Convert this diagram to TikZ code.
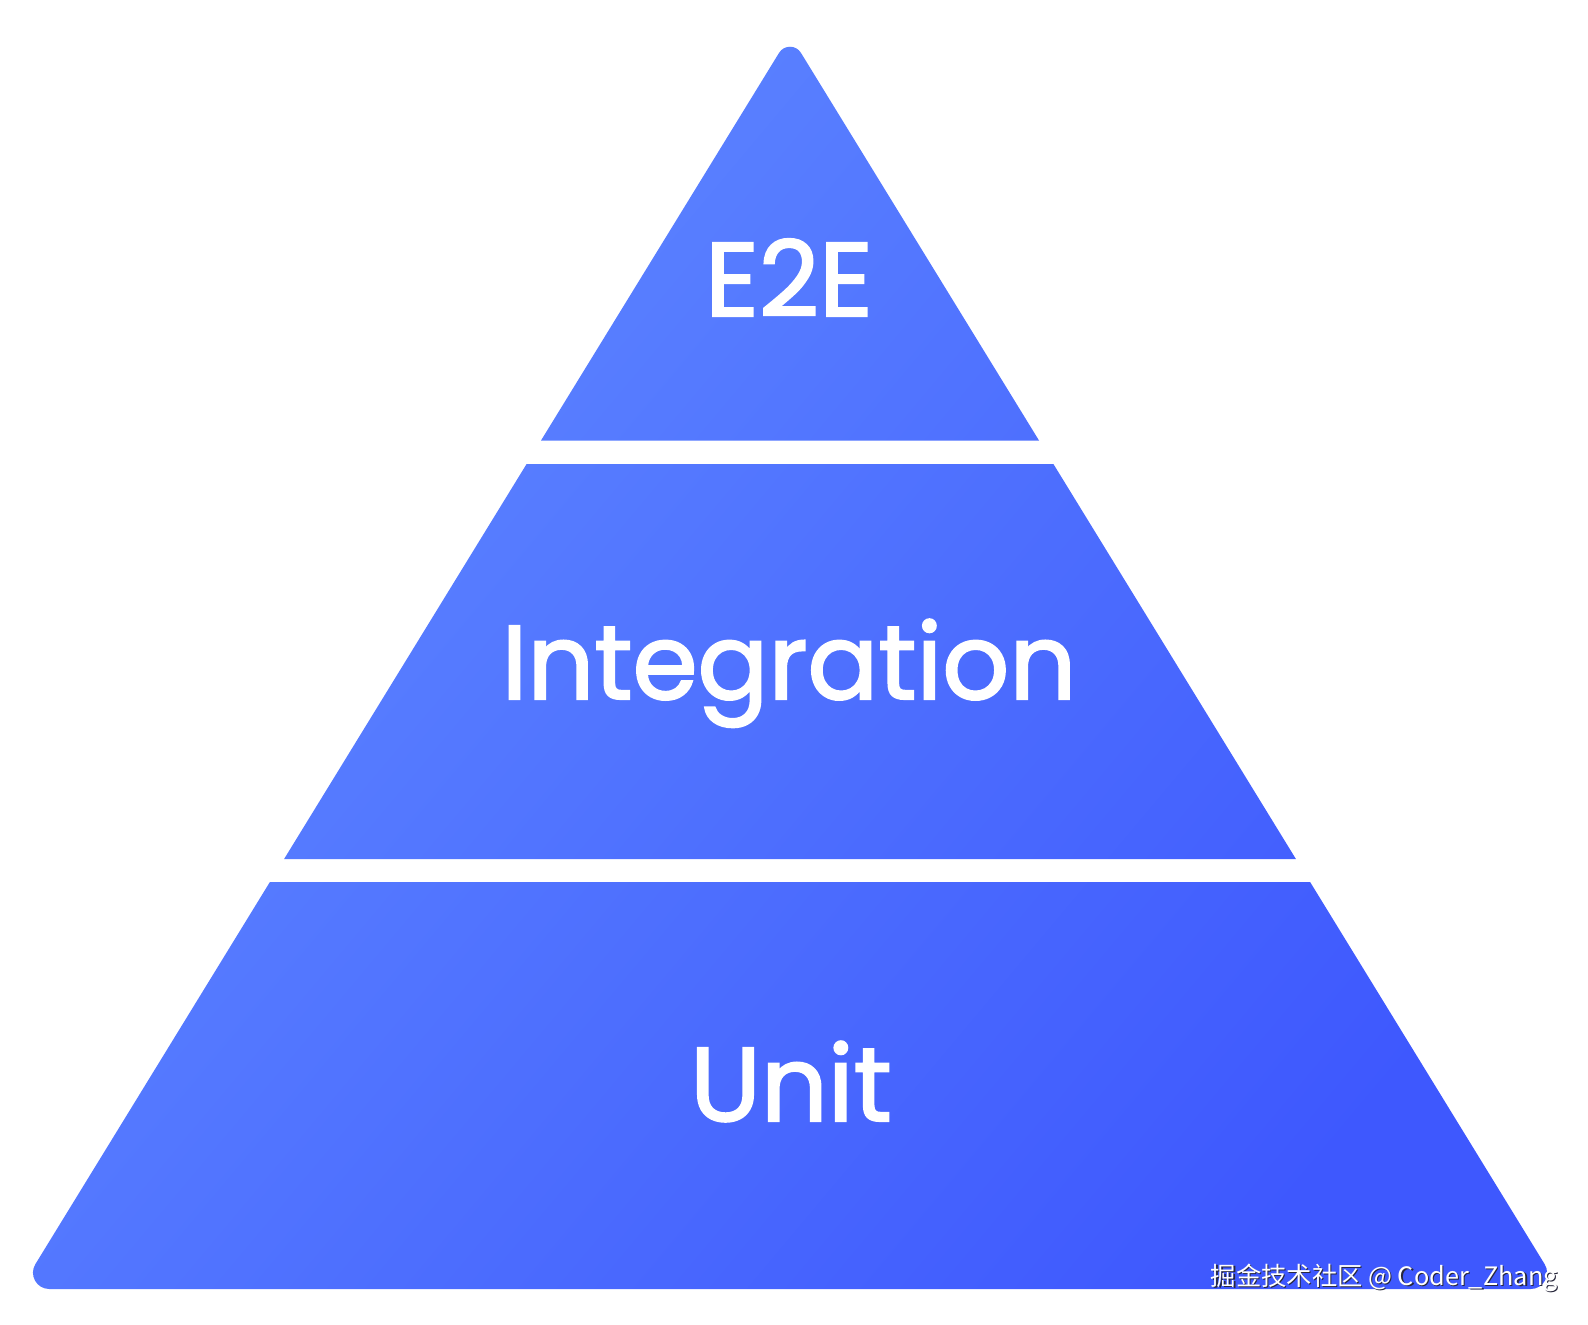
\documentclass[tikz,border=0pt]{standalone}
\usepackage{fontspec}
\setmainfont{Poppins}
\newfontfamily\layerfont{Poppins}[FakeBold=2]
\newfontfamily\cjkwm{Noto Sans CJK SC}
\definecolor{pyrlight}{RGB}{96,138,255}
\definecolor{pyrdark}{RGB}{62,88,254}
\definecolor{wmshadow}{RGB}{40,40,60}
\tikzset{
  layertext/.style={text=white, font=\layerfont\fontsize{29.8}{32}\selectfont, inner sep=0pt, anchor=base},
  wmtext/.style={font=\cjkwm\fontsize{7.2}{9}\selectfont, inner sep=0pt, anchor=base west}
}
\begin{document}
\begin{tikzpicture}[x=0.01cm, y=-0.01cm]
\useasboundingbox (0,0) rectangle (1588,1324);
\begin{scope}
\clip
  % top triangle
  (541,440.5) -- (779.1,52.8) .. controls (784.1,44.7) and (795.9,44.7) .. (800.9,52.8) -- (1039,440.5) -- cycle
  % middle trapezoid
  (526.6,464) -- (1053.4,464) -- (1295.9,859) -- (284.1,859) -- cycle
  % bottom trapezoid
  (269.9,882) -- (1310.1,882) -- (1544.6,1264.1) .. controls (1551.3,1275.0) and (1543.5,1289) .. (1530.7,1289)
  -- (49.3,1289) .. controls (36.5,1289) and (28.7,1275.0) .. (35.4,1264.1) -- cycle;
\shade[shading=axis, top color=pyrlight, bottom color=pyrdark, shading angle=50] (0,0) rectangle (1588,1324);
\end{scope}
\node[layertext] (e2e) at (789,316) {E2E};
\node[layertext] (integ) at (789,699) {Integration};
\node[layertext] (unit) at (791,1121) {Unit};
\node[wmtext, text=wmshadow] (wmshade) at (1211.3,1286.3) {掘金技术社区 @ Coder\_Zhang};
\node[wmtext, text=white] (wm) at (1210,1285) {掘金技术社区 @ Coder\_Zhang};
\end{tikzpicture}
\end{document}
